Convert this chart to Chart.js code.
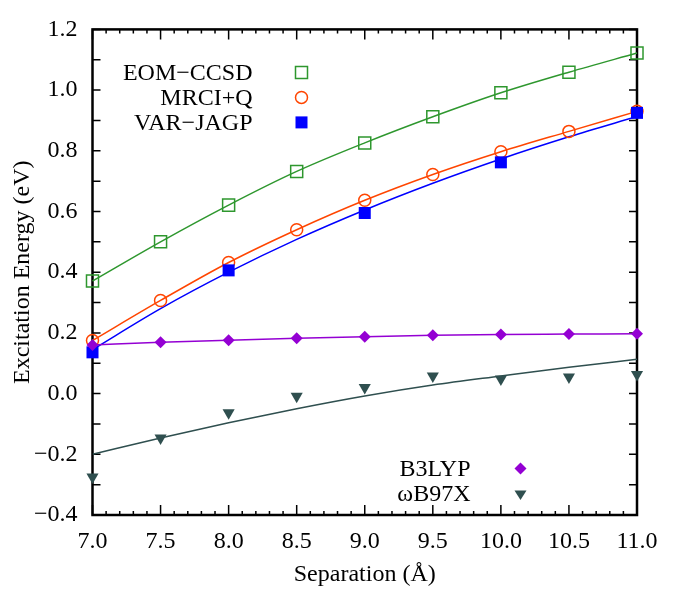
<!DOCTYPE html>
<html lang="en">
<head>
<meta charset="UTF-8">
<title>Excitation Energy vs Separation</title>
<script src="https://cdn.jsdelivr.net/npm/chart.js"></script>
<style>
  body { margin: 0; background: #fff; }
  #wrap { width: 673px; height: 589px; }
</style>
</head>
<body>
<div id="wrap"><canvas id="excChart" width="673" height="589"></canvas></div>
<script>
// separations (Angstrom)
const separation = [7.0, 7.5, 8.0, 8.5, 9.0, 9.5, 10.0, 10.5, 11.0];
const jagpSeparation = [7.0, 8.0, 9.0, 10.0, 11.0];

// excitation energies (eV)
const eomCcsd = [0.371, 0.500, 0.621, 0.732, 0.826, 0.912, 0.991, 1.059, 1.122];
const mrciQ = [0.175, 0.307, 0.432, 0.540, 0.637, 0.722, 0.797, 0.864, 0.930];
const varJagp = [0.136, 0.406, 0.595, 0.762, 0.925];
const varJagpFit = [0.145, 0.280, 0.400, 0.508, 0.605, 0.693, 0.773, 0.846, 0.913];
const b3lyp = [0.160, 0.169, 0.176, 0.182, 0.187, 0.192, 0.195, 0.196, 0.197];
const wb97x = [-0.275, -0.146, -0.063, -0.009, 0.020, 0.058, 0.048, 0.055, 0.063];
const wb97xFit = [-0.200, -0.146, -0.096, -0.050, -0.008, 0.028, 0.058, 0.087, 0.113];

// tick labels
const xTicks = [7.0, 7.5, 8.0, 8.5, 9.0, 9.5, 10.0, 10.5, 11.0];
const yTicks = [-0.4, -0.2, 0.0, 0.2, 0.4, 0.6, 0.8, 1.0, 1.2];

const GREEN = '#2e972e';
const ORANGE = '#ff4500';
const BLUE = '#0000ff';
const VIOLET = '#9400d3';
const SLATE = '#2f4f4f';
const SERIF = "'Liberation Serif', serif";

function pts(xs, ys) {
    return xs.map((x, i) => ({ x: x, y: ys[i] }));
}

function fmt(v) {
    return v.toFixed(1).replace('-', '\u2212');
}

// draw a single marker for the legend
function drawMarker(ctx, kind, x, y, color) {
    ctx.save();
    ctx.strokeStyle = color;
    ctx.fillStyle = color;
    ctx.lineWidth = 1.5;
    ctx.beginPath();
    if (kind === 'openSquare') {
        ctx.rect(x - 6, y - 6, 12, 12);
        ctx.stroke();
    } else if (kind === 'openCircle') {
        ctx.arc(x, y, 6, 0, Math.PI * 2);
        ctx.stroke();
    } else if (kind === 'square') {
        ctx.rect(x - 6, y - 6, 12, 12);
        ctx.fill();
    } else if (kind === 'diamond') {
        ctx.moveTo(x - 6, y);
        ctx.lineTo(x, y - 6);
        ctx.lineTo(x + 6, y);
        ctx.lineTo(x, y + 6);
        ctx.closePath();
        ctx.fill();
    } else if (kind === 'triDown') {
        ctx.moveTo(x - 6, y - 3.5);
        ctx.lineTo(x + 6, y - 3.5);
        ctx.lineTo(x, y + 6);
        ctx.closePath();
        ctx.fill();
    }
    ctx.restore();
}

// frame + inward ticks on all four sides (gnuplot look)
const frameTicks = {
    id: 'frameTicks',
    beforeDatasetsDraw(chart) {
        const { ctx, chartArea: a, scales: { x, y } } = chart;
        ctx.save();
        ctx.strokeStyle = '#000';
        ctx.lineWidth = 1.5;
        ctx.beginPath();
        const nx = Math.round((x.max - x.min) / 0.1);
        for (let i = 0; i <= nx; i++) {
            const px = x.getPixelForValue(x.min + i * 0.1);
            const len = i % 5 === 0 ? 10 : 4;
            ctx.moveTo(px, a.bottom);
            ctx.lineTo(px, a.bottom - len);
            ctx.moveTo(px, a.top);
            ctx.lineTo(px, a.top + len);
        }
        const ny = Math.round((y.max - y.min) / 0.1);
        for (let i = 0; i <= ny; i++) {
            const py = y.getPixelForValue(y.min + i * 0.1);
            ctx.moveTo(a.left, py);
            ctx.lineTo(a.left + 8, py);
            ctx.moveTo(a.right, py);
            ctx.lineTo(a.right - 8, py);
        }
        ctx.stroke();
        ctx.lineWidth = 2.5;
        ctx.strokeRect(a.left, a.top, a.right - a.left, a.bottom - a.top);
        ctx.restore();
    }
};

// key entries: text right-aligned, sample marker to the right
const keyBox = {
    id: 'keyBox',
    afterDraw(chart) {
        const { ctx, chartArea: a } = chart;
        const top = [
            ['EOM\u2212CCSD', 'openSquare', GREEN],
            ['MRCI+Q', 'openCircle', ORANGE],
            ['VAR\u2212JAGP', 'square', BLUE]
        ];
        const bottom = [
            ['B3LYP', 'diamond', VIOLET],
            ['\u03c9B97X', 'triDown', SLATE]
        ];
        ctx.save();
        ctx.font = '24px ' + SERIF;
        ctx.fillStyle = '#000';
        ctx.textAlign = 'right';
        ctx.textBaseline = 'middle';
        top.forEach((k, i) => {
            const yy = a.top + 43 + i * 25;
            ctx.fillText(k[0], a.left + 160, yy + 1);
            drawMarker(ctx, k[1], a.left + 209, yy, k[2]);
        });
        bottom.forEach((k, i) => {
            const yy = a.top + 439 + i * 25.5;
            ctx.fillText(k[0], a.left + 378, yy + 1);
            drawMarker(ctx, k[1], a.left + 428, yy, k[2]);
        });
        ctx.restore();
    }
};

function buildChart() {
    const ctx = document.getElementById('excChart').getContext('2d');
    return new Chart(ctx, {
        type: 'scatter',
        data: {
            datasets: [
                {
                    label: 'EOM-CCSD',
                    data: pts(separation, eomCcsd),
                    showLine: true,
                    borderColor: GREEN,
                    borderWidth: 1.5,
                    cubicInterpolationMode: 'monotone',
                    pointStyle: 'rect',
                    pointRadius: 8.5,
                    pointBorderWidth: 1.5,
                    pointBorderColor: GREEN,
                    pointBackgroundColor: 'rgba(0,0,0,0)',
                    clip: false,
                    order: 5
                },
                {
                    label: 'MRCI+Q',
                    data: pts(separation, mrciQ),
                    showLine: true,
                    borderColor: ORANGE,
                    borderWidth: 1.5,
                    cubicInterpolationMode: 'monotone',
                    pointStyle: 'circle',
                    pointRadius: 6,
                    pointBorderWidth: 1.5,
                    pointBorderColor: ORANGE,
                    pointBackgroundColor: 'rgba(0,0,0,0)',
                    clip: false,
                    order: 4
                },
                {
                    label: 'VAR-JAGP fit',
                    data: pts(separation, varJagpFit),
                    showLine: true,
                    borderColor: BLUE,
                    borderWidth: 1.5,
                    cubicInterpolationMode: 'monotone',
                    pointRadius: 0,
                    order: 6
                },
                {
                    label: 'VAR-JAGP',
                    data: pts(jagpSeparation, varJagp),
                    showLine: false,
                    pointStyle: 'rect',
                    pointRadius: 8.5,
                    pointBorderWidth: 0,
                    pointBackgroundColor: BLUE,
                    clip: false,
                    order: 3
                },
                {
                    label: 'B3LYP',
                    data: pts(separation, b3lyp),
                    showLine: true,
                    borderColor: VIOLET,
                    borderWidth: 1.5,
                    cubicInterpolationMode: 'monotone',
                    pointStyle: 'rectRot',
                    pointRadius: 6,
                    pointBorderWidth: 0,
                    pointBackgroundColor: VIOLET,
                    clip: false,
                    order: 2
                },
                {
                    label: 'wB97X fit',
                    data: pts(separation, wb97xFit),
                    showLine: true,
                    borderColor: SLATE,
                    borderWidth: 1.5,
                    cubicInterpolationMode: 'monotone',
                    pointRadius: 0,
                    order: 6
                },
                {
                    label: 'wB97X',
                    data: pts(separation, wb97x),
                    showLine: false,
                    pointStyle: 'triangle',
                    pointRotation: 180,
                    pointRadius: 7,
                    pointBorderWidth: 0,
                    pointBackgroundColor: SLATE,
                    clip: false,
                    order: 1
                }
            ]
        },
        options: {
            responsive: false,
            animation: false,
            layout: { padding: { top: 17, right: 36, left: 0, bottom: 0 } },
            plugins: {
                legend: { display: false },
                tooltip: { enabled: false }
            },
            scales: {
                x: {
                    type: 'linear',
                    min: 7,
                    max: 11,
                    afterBuildTicks: s => { s.ticks = xTicks.map(v => ({ value: v })); },
                    afterFit: s => { s.height = 74; },
                    grid: { display: false, drawTicks: false },
                    border: { display: false },
                    ticks: {
                        padding: 12,
                        color: '#000',
                        font: { family: SERIF, size: 24 },
                        maxRotation: 0,
                        callback: v => fmt(v)
                    },
                    title: {
                        display: true,
                        text: 'Separation (\u00c5)',
                        color: '#000',
                        font: { family: SERIF, size: 24 },
                        padding: { top: 0, bottom: 0 }
                    }
                },
                y: {
                    min: -0.4,
                    max: 1.2,
                    afterBuildTicks: s => { s.ticks = yTicks.map(v => ({ value: v })); },
                    afterFit: s => { s.width = 92.5; },
                    grid: { display: false, drawTicks: false },
                    border: { display: false },
                    ticks: {
                        padding: 15,
                        color: '#000',
                        font: { family: SERIF, size: 24 },
                        callback: v => fmt(v)
                    },
                    title: {
                        display: true,
                        text: 'Excitation Energy (eV)',
                        color: '#000',
                        font: { family: SERIF, size: 24 },
                        padding: { top: 8, bottom: 0 }
                    }
                }
            }
        },
        plugins: [frameTicks, keyBox]
    });
}

// make sure the serif face is ready before the canvas uses it
document.fonts.load("24px 'Liberation Serif'").then(buildChart, buildChart);
</script>
</body>
</html>
